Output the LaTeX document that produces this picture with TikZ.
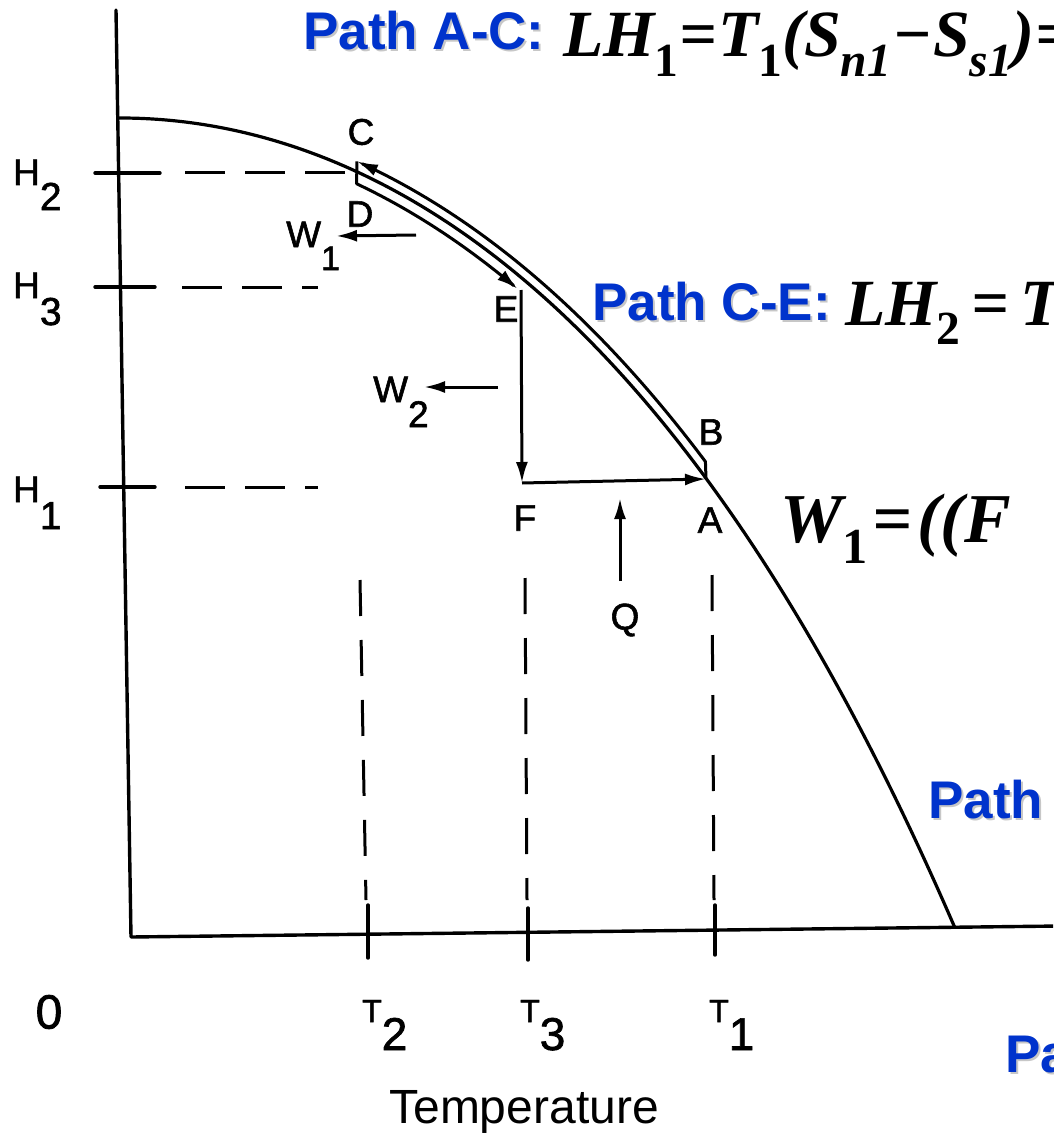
\documentclass[tikz,border=0pt]{standalone}
\usepackage{fontspec}
\usepackage{graphicx}
\setmainfont{Liberation Sans}
\newfontfamily\handfont[FakeBold=1.5]{Liberation Sans}
\newfontfamily\formfont{Liberation Serif}
\usetikzlibrary{arrows.meta}
\definecolor{pathblue}{RGB}{0,51,204}
\newcommand{\fsz}[1]{\fontsize{#1}{#1}\selectfont}
\newcommand{\lowsub}[1]{\raisebox{-0.3em}{\scalebox{0.72}{#1}}}
\pgfmathdeclarefunction{cx}{1}{\pgfmathparse{120+835*#1}}
\pgfmathdeclarefunction{cy}{1}{\pgfmathparse{118+655.4*#1*#1+154.6*#1*#1*#1*#1}}
\pgfmathdeclarefunction{cs}{1}{\pgfmathparse{(1310.8*#1+618.4*#1*#1*#1)/835}}
\pgfmathdeclarefunction{cn}{1}{\pgfmathparse{sqrt(1+cs(#1)*cs(#1))}}
\begin{document}
\begin{tikzpicture}[x=1pt,y=-1pt,
  ax/.style={line width=3.4pt, line cap=round, line join=round},
  crv/.style={line width=3.2pt},
  pth/.style={line width=3pt, line join=round},
  dsh/.style={line width=3pt, dash pattern=on 36pt off 24pt},
  hdsh/.style={line width=3pt, dash pattern=on 40pt off 20pt},
  arr/.style={-{Latex[length=21pt,width=12pt]}},
  lbl/.style={inner sep=0pt, font=\handfont\fsz{37}},
  bluetxt/.style={inner sep=0pt, anchor=base west, text=pathblue, font=\fsz{53}\bfseries},
  shadtxt/.style={inner sep=0pt, anchor=base west, text=black!22, font=\fsz{53}\bfseries},
  form/.style={inner sep=0pt, anchor=base west, font=\formfont\fsz{66}\bfseries\itshape}
]
\useasboundingbox (0,0) rectangle (1053,1142);
\clip (0,0) rectangle (1053,1142);
\fill[white] (0,0) rectangle (1053,1142);

% axes
\coordinate (ytop) at (116,10);
\coordinate (orig) at (131,937);
\coordinate (xend) at (1060,926);
\draw[ax] (ytop) -- (orig) -- (xend);

% H ticks and dashed lines
\coordinate (h2a) at (95,173); \coordinate (h2b) at (160,173);
\coordinate (h2c) at (185,173); \coordinate (h2d) at (345,173);
\coordinate (h3a) at (95,287); \coordinate (h3b) at (155,287);
\coordinate (h3c) at (182,287); \coordinate (h3d) at (318,287);
\coordinate (h1a) at (100,487); \coordinate (h1b) at (155,487);
\coordinate (h1c) at (185,487); \coordinate (h1d) at (318,487);
\draw[ax] (h2a) -- (h2b); \draw[hdsh] (h2c) -- (h2d);
\draw[ax] (h3a) -- (h3b); \draw[hdsh] (h3c) -- (h3d);
\draw[ax] (h1a) -- (h1b); \draw[hdsh] (h1c) -- (h1d);

% T ticks and dashed lines
\coordinate (t2a) at (368,905); \coordinate (t2b) at (368,958);
\coordinate (t3a) at (528,908); \coordinate (t3b) at (528,960);
\coordinate (t1a) at (715,905); \coordinate (t1b) at (715,955);
\draw[ax] (t2a) -- (t2b); \draw[ax] (t3a) -- (t3b); \draw[ax] (t1a) -- (t1b);
\coordinate (v2a) at (360,580); \coordinate (v2b) at (366,900);
\coordinate (v3a) at (525,578); \coordinate (v3b) at (527,900);
\coordinate (v1a) at (712,575); \coordinate (v1b) at (714,900);
\draw[dsh] (v2a) -- (v2b); \draw[dsh] (v3a) -- (v3b); \draw[dsh] (v1a) -- (v1b);

% main curve
\coordinate (cstart) at (117,118);
\draw[crv] (cstart) -- plot[domain=0:1, samples=90, smooth] ({cx(\x)},{cy(\x)});

% path points
\coordinate (A) at (706,479);
\coordinate (B) at ({cx(0.692)+9.5*cs(0.692)/cn(0.692)},{cy(0.692)-9.5/cn(0.692)});
\coordinate (C) at ({cx(0.279)+9.5*cs(0.279)/cn(0.279)},{cy(0.279)-9.5/cn(0.279)});
\coordinate (D) at ({cx(0.289)-11*cs(0.289)/cn(0.289)},{cy(0.289)+11/cn(0.289)});
\coordinate (Ev) at (521,290);
\coordinate (F) at (522,483);

\draw[pth, arr] (A) -- (B) -- plot[domain=0.692:0.279, samples=40, smooth]
  ({cx(\x)+9.5*cs(\x)/cn(\x)},{cy(\x)-9.5/cn(\x)});
\draw[pth, arr] (C) -- (D) -- plot[domain=0.289:0.485, samples=30, smooth]
  ({cx(\x)-11*cs(\x)/cn(\x)},{cy(\x)+11/cn(\x)});
\draw[pth, arr] (Ev) -- (F);
\draw[pth, arr] (F) -- (A);

% W and Q arrows
\coordinate (w1s) at (416,235); \coordinate (w1e) at (336,236);
\coordinate (w2s) at (498,387); \coordinate (w2e) at (424,387);
\coordinate (qs) at (620,581); \coordinate (qe) at (620,498);
\draw[pth, arr] (w1s) -- (w1e);
\draw[pth, arr] (w2s) -- (w2e);
\draw[pth, arr] (qs) -- (qe);

% point labels
\node[lbl] (lC) at (361,132) {C};
\node[lbl] (lD) at (360,214) {D};
\node[lbl] (lE) at (506,309) {E};
\node[lbl] (lB) at (711,432) {B};
\node[lbl] (lF) at (525,518) {F};
\node[lbl] (lA) at (710,520) {A};
\node[lbl] (lQ) at (625,620) {Q};
\node[lbl, anchor=base west] (lW1) at (286,247) {W\raisebox{-23pt}{\fsz{34}1}};
\node[lbl, anchor=base west] (lW2) at (373,402) {W\raisebox{-25pt}{\fsz{37}2}};

% axis labels
\node[lbl, anchor=base west] (lH2) at (13,185) {H\raisebox{-25pt}{\fsz{39}2}};
\node[lbl, anchor=base west] (lH3) at (13,298) {H\raisebox{-27pt}{\fsz{39}3}};
\node[lbl, anchor=base west] (lH1) at (13,502) {H\raisebox{-27pt}{\fsz{39}1}};
\node[lbl, anchor=base west, font=\handfont\fsz{32}] (lT2) at (362,1022) {T\raisebox{-28pt}{\fsz{46}2}};
\node[lbl, anchor=base west, font=\handfont\fsz{32}] (lT3) at (520,1022) {T\raisebox{-28pt}{\fsz{46}3}};
\node[lbl, anchor=base west, font=\handfont\fsz{32}] (lT1) at (709,1022) {T\raisebox{-28pt}{\fsz{46}1}};
\node[lbl, font=\handfont\fsz{48}] (l0) at (49,1012) {0};
\node[inner sep=0pt, font=\fsz{48}] (ltemp) at (524,1112) {Temperature};

% blue texts with shadow
\node[shadtxt] (pacS) at (305,52) {Path A-C:};
\node[bluetxt] (pac) at (303,50) {Path A-C:};
\node[shadtxt] (pceS) at (594,322) {Path C-E:};
\node[bluetxt] (pce) at (592,320) {Path C-E:};
\node[shadtxt] (p3S) at (930,820) {Path};
\node[bluetxt] (p3) at (928,818) {Path};
\node[shadtxt] (p4S) at (1007,1074) {Pa};
\node[bluetxt] (p4) at (1005,1072) {Pa};

% formulas
\node[form] (f1) at (563,57) {LH\lowsub{\upshape 1}\kern1pt=\kern1pt T\lowsub{\upshape 1}(S\lowsub{n1}\kern1pt−\kern1pt S\lowsub{s1})\kern1pt=};
\node[form] (f2) at (845,325) {LH\lowsub{\upshape 2}\,=\,T};
\node[form, font=\formfont\fsz{70}\bfseries\itshape] (f3) at (780,542) {W\lowsub{\upshape 1}\kern5pt=\kern5pt((F};
\end{tikzpicture}
\end{document}
